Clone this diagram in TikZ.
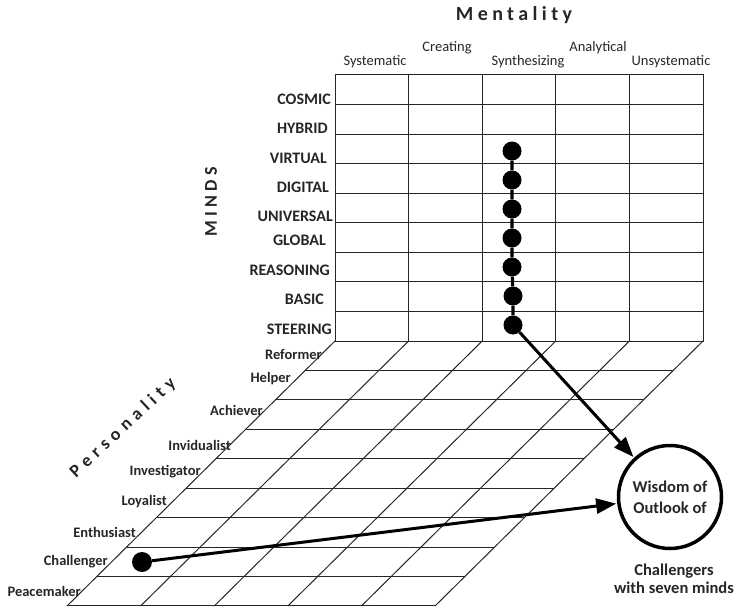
\documentclass[tikz,border=0pt]{standalone}
\usepackage{fontspec}
\setmainfont{Carlito}
\newfontfamily\spacedfont[LetterSpace=22]{Carlito}
\newfontfamily\widefont[LetterSpace=30]{Carlito}
\newfontfamily\mindsfont[LetterSpace=24]{Carlito}
\usetikzlibrary{arrows.meta}
\begin{document}
\begin{tikzpicture}[x=1pt,y=-1pt,
  gridline/.style={line width=1pt,draw=black!85},
  minlabel/.style={anchor=east,inner sep=1pt,font=\fontsize{16}{18}\selectfont\bfseries,text=black!85},
  perlabel/.style={anchor=east,inner sep=1pt,font=\fontsize{14.5}{16}\selectfont\bfseries,text=black!85},
  header/.style={inner sep=0pt,font=\fontsize{14.5}{16}\selectfont,text=black!85},
  title/.style={inner sep=0pt,text=black!85},
  dot/.style={circle,fill=black,inner sep=0pt,minimum size=19pt},
  link/.style={line width=3.2pt},
  pointer/.style={line width=3pt,-{Triangle[length=20pt,width=15pt]},shorten >=1pt},
  goal/.style={circle,draw=black,line width=3.5pt,minimum size=103pt,inner sep=0pt,align=center,
    font=\fontsize{16.5}{21}\selectfont\bfseries,text=black!85},
  note/.style={align=center,inner sep=0pt,font=\fontsize{16.5}{18}\selectfont\bfseries,text=black!85}]
\useasboundingbox (0,0) rectangle (734,607);

% ---- upright grid: minds x mentality ----
\draw[gridline] (335,75) rectangle (703,341);
\foreach \i in {1,...,4} \draw[gridline] (335+73.6*\i,75) -- (335+73.6*\i,341);
\foreach \k in {1,...,8} \draw[gridline] (335,75+29.56*\k) -- (703,75+29.56*\k);

% ---- slanted floor grid: personality ----
\foreach \j in {1,...,9} \draw[gridline] (335-29.78*\j,341+29.44*\j) -- (703-29.78*\j,341+29.44*\j);
\foreach \i in {0,...,5} \draw[gridline] (335+73.6*\i,341) -- (67+73.6*\i,606);

% ---- titles ----
\node[title,font=\fontsize{20}{22}\selectfont\bfseries\spacedfont] (mentality) at (514,15) {Mentality};
\node[title,rotate=90,font=\fontsize{18}{20}\selectfont\bfseries\mindsfont] (minds) at (211,202) {MINDS};
\node[title,rotate=43,font=\fontsize{18}{20}\selectfont\bfseries\widefont] (personality) at (123,428) {Personality};

% ---- mentality headers ----
\node[header] (h1) at (375,62) {Systematic};
\node[header] (h2) at (447,48) {Creating};
\node[header] (h3) at (528,62) {Synthesizing};
\node[header] (h4) at (598,48) {Analytical};
\node[header] (h5) at (671,62) {Unsystematic};

% ---- minds labels ----
\node[minlabel] (m1) at (332,99) {COSMIC};
\node[minlabel] (m2) at (329,128) {HYBRID};
\node[minlabel] (m3) at (328,158) {VIRTUAL};
\node[minlabel] (m4) at (330,187) {DIGITAL};
\node[minlabel] (m5) at (334,216) {UNIVERSAL};
\node[minlabel] (m6) at (327,240) {GLOBAL};
\node[minlabel] (m7) at (331,270) {REASONING};
\node[minlabel] (m8) at (325,299) {BASIC};
\node[minlabel] (m9) at (333,329) {STEERING};

% ---- personality labels ----
\node[perlabel] (p1) at (323,355) {Reformer};
\node[perlabel] (p2) at (292,379) {Helper};
\node[perlabel] (p3) at (264,410) {Achiever};
\node[perlabel] (p4) at (232,445) {Invidualist};
\node[perlabel] (p5) at (202,472) {Investigator};
\node[perlabel] (p6) at (168,502) {Loyalist};
\node[perlabel] (p7) at (137,532) {Enthusiast};
\node[perlabel] (p8) at (109,562) {Challenger};
\node[perlabel] (p9) at (82,591) {Peacemaker};

% ---- synthesizing column of minds ----
\node[dot] (d1) at (512,151) {};
\node[dot] (d2) at (512,180) {};
\node[dot] (d3) at (512,209) {};
\node[dot] (d4) at (512,238) {};
\node[dot] (d5) at (512,267) {};
\node[dot] (d6) at (513,296) {};
\node[dot] (d7) at (513,325) {};
\draw[link] (d1) -- (d2) -- (d3) -- (d4) -- (d5) -- (d6) -- (d7);

% ---- challenger ----
\node[dot,minimum size=20pt] (c) at (142,562) {};

% ---- outcome ----
\node[goal] (wis) at (670,497) {Wisdom of\\Outlook of};
\node[note] (cap) at (674,579) {Challengers\\with seven minds};

\draw[pointer] (d7) -- (wis);
\draw[pointer] (c) -- (wis);
\end{tikzpicture}
\end{document}
